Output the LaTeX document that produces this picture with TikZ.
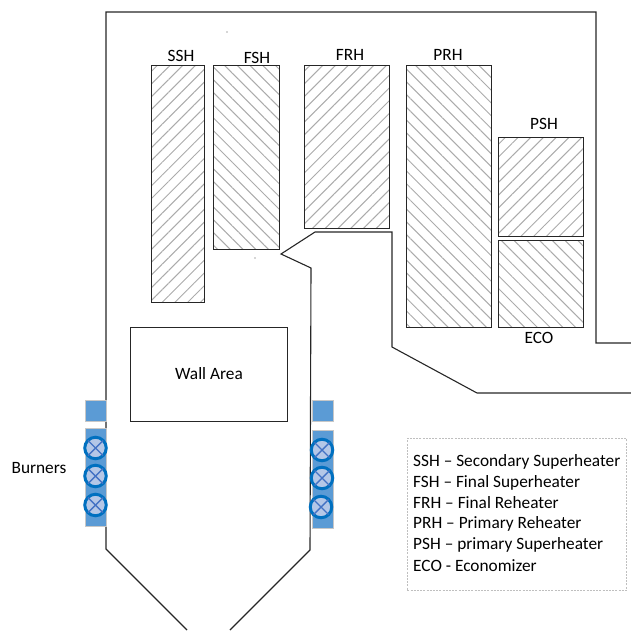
\documentclass[tikz,border=0pt]{standalone}
\usepackage{fontspec}
\setmainfont{Carlito}
\usepackage{xcolor}
\usetikzlibrary{patterns.meta}
\definecolor{burnerblue}{HTML}{5B9BD5}
\definecolor{burnerring}{HTML}{0070C0}
\definecolor{burnerfill}{HTML}{B4C7E7}
\definecolor{burnercross}{HTML}{4472C4}

\begin{document}
\begin{tikzpicture}[
x=1pt,
y=-1pt,
every node/.style={font=\fontsize{17.3}{20}\selectfont,inner sep=0pt},
wall/.style={draw=black!85,line width=1.1pt,line join=miter},
bank/.style={rectangle,draw=black!85,line width=1pt,anchor=north west,minimum width=#1},
hatchup/.style={pattern={Lines[angle=45,distance=9pt,line width=1pt]},pattern color=black!33},
hatchdown/.style={pattern={Lines[angle=-45,distance=9pt,line width=1pt]},pattern color=black!33},
lbl/.style={anchor=center},
burnerbox/.style={rectangle,draw=black!22,fill=burnerblue,line width=0.8pt,anchor=north west,minimum width=21pt},
burner/.style={circle,draw=burnerring,fill=burnerfill,line width=3pt,minimum size=21.5pt},
burnerx/.style={burnercross,line width=1.4pt,shorten <=1.5pt,shorten >=1.5pt},
legendline/.style={anchor=west},
speck/.style={circle,fill=black!70,minimum size=1.2pt}
]
\useasboundingbox (0,0) rectangle (631,630);

% furnace outline
\draw[wall] (631,343) -- (596,343) -- (596,12) -- (106,12) -- (106,549) -- (187,630);
\draw[wall] (230,630) -- (310,550) -- (311,268) -- (281,254) -- (315,232) -- (392,232) -- (392,347) -- (477,393) -- (631,393);

% tube banks
\node[bank=53pt,hatchup,minimum height=237pt] (ssh) at (151,65) {};
\node[bank=66pt,hatchdown,minimum height=184pt] (fsh) at (213,65) {};
\node[bank=85pt,hatchup,minimum height=163pt] (frh) at (304,65) {};
\node[bank=85pt,hatchdown,minimum height=262pt] (prh) at (406,65) {};
\node[bank=85pt,hatchup,minimum height=99pt] (psh) at (498,137) {};
\node[bank=85pt,hatchdown,minimum height=87pt] (eco) at (498,240) {};

\node[lbl] (sshlabel) at (181,56) {SSH};
\node[lbl] (fshlabel) at (257,58) {FSH};
\node[lbl] (frhlabel) at (350,55) {FRH};
\node[lbl] (prhlabel) at (448,55) {PRH};
\node[lbl] (pshlabel) at (544,124) {PSH};
\node[lbl] (ecolabel) at (539,338) {ECO};
\node[speck] (specka) at (227,32) {};
\node[speck] (speckb) at (255,258) {};

% wall area
\node[bank=157pt,minimum height=94pt] (wallarea) at (130,327) {};
\node[lbl] (walllabel) at (209,374) {Wall Area};

% burners
\node[burnerbox,minimum height=21pt] (lefttop) at (85,400) {};
\node[burnerbox,minimum height=98pt] (leftbar) at (85,428) {};
\node[burnerbox,minimum height=21pt] (righttop) at (312,400) {};
\node[burnerbox,minimum height=98pt] (rightbar) at (312,430) {};
\foreach \name/\px/\py in {la/95.5/448,lb/95.5/476,lc/95.5/505,ra/322/450,rb/322/478,rc/321/507}{
  \node[burner] (\name) at (\px,\py) {};
  \draw[burnerx] (\name.north west) -- (\name.south east);
  \draw[burnerx] (\name.north east) -- (\name.south west);
}
\node[lbl] (burnerlabel) at (39,468) {Burners};

% legend
\node[rectangle,draw=black!25,dash pattern=on 2pt off 1.2pt,line width=0.6pt,anchor=north west,minimum width=219pt,minimum height=152pt] (legend) at (407,438) {};
\node[legendline] (lega) at (413,462) {SSH – Secondary Superheater};
\node[legendline] (legb) at (413,483) {FSH – Final Superheater};
\node[legendline] (legc) at (413,503) {FRH – Final Reheater};
\node[legendline] (legd) at (413,524) {PRH – Primary Reheater};
\node[legendline] (lege) at (413,545) {PSH – primary Superheater};
\node[legendline] (legf) at (413,566) {ECO - Economizer};
\end{tikzpicture}
\end{document}
